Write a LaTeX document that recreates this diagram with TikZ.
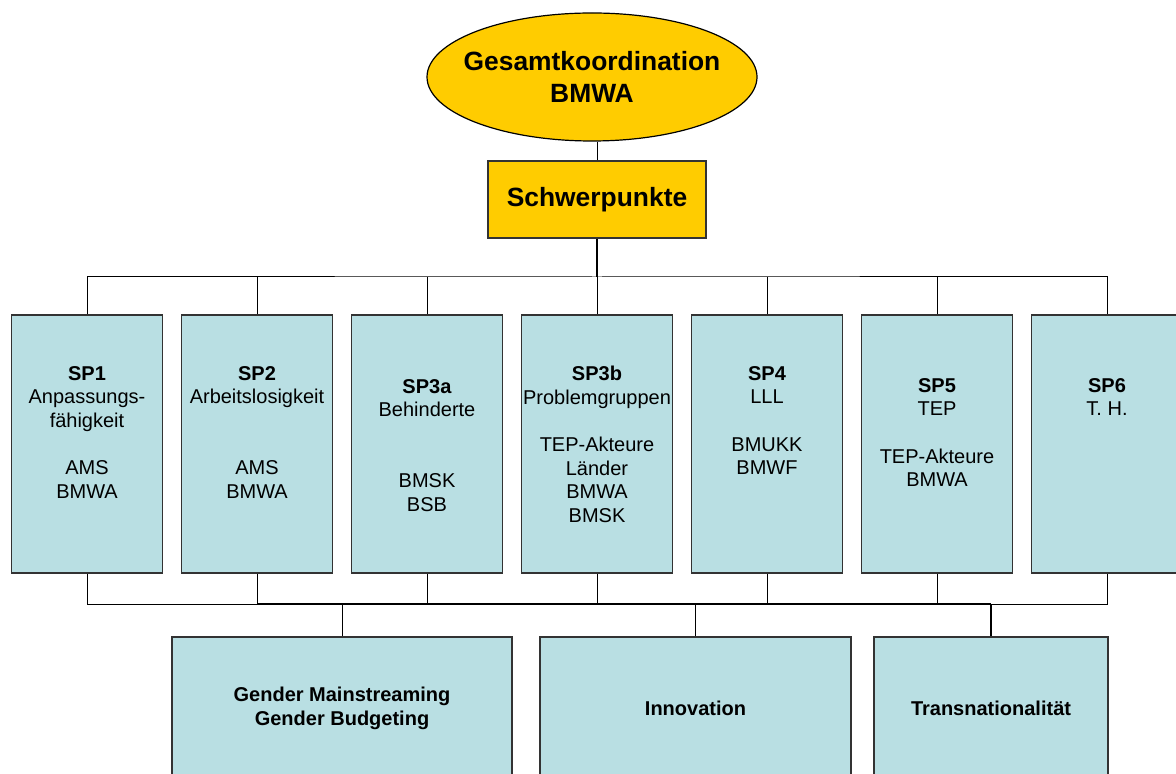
\documentclass[tikz,border=0pt]{standalone}
\usepackage{fontspec}
\setmainfont{Liberation Sans}
\usetikzlibrary{shapes.geometric}
\definecolor{gelb}{RGB}{255,204,0}
\definecolor{tuerkis}{RGB}{185,223,227}
\definecolor{rand}{RGB}{51,51,51}
\tikzset{
	spbox/.style={rectangle,draw=rand,fill=tuerkis,line width=.65pt,minimum width=75.5pt,minimum height=129pt,inner sep=0pt},
	sptext/.style={anchor=north,align=center,inner sep=0pt,font=\fontsize{10}{11.8}\selectfont},
	querbox/.style={rectangle,draw=rand,fill=tuerkis,line width=.65pt,minimum height=71pt,inner sep=0pt,align=center,font=\bfseries\fontsize{10}{12}\selectfont},
	linie/.style={line width=.5pt,draw=black},
	dicklinie/.style={line width=1pt,draw=black},
}

\begin{document}
\begin{tikzpicture}[x=.5pt,y=-.5pt]
	\useasboundingbox (0,0) rectangle (1176,774);
	\clip (0,0) rectangle (1176,774);
	% Kopf
	\node[ellipse,draw=black,fill=gelb,line width=.6pt,minimum width=165pt,minimum height=64pt,inner xsep=-6pt,inner ysep=0pt,align=center,font=\bfseries\fontsize{13.2}{15.7}\selectfont] (gesamt) at (592,77) {Gesamtkoordination\\BMWA};
	\node[rectangle,draw=rand,fill=gelb,line width=.65pt,minimum width=109pt,minimum height=38.5pt,inner sep=0pt,font=\bfseries\fontsize{13.2}{15.7}\selectfont] (schwer) at (597,199.5) {Schwerpunkte};
	% Schwerpunkte
	\node[spbox] (sp1) at (87,444) {};
	\node[spbox] (sp2) at (257,444) {};
	\node[spbox] (sp3a) at (427,444) {};
	\node[spbox] (sp3b) at (597,444) {};
	\node[spbox] (sp4) at (767,444) {};
	\node[spbox] (sp5) at (937,444) {};
	\node[spbox] (sp6) at (1107,444) {};
	\node[sptext] (sp1t) at (87,366) {\textbf{SP1}\\Anpassungs-\\fähigkeit\\[11.8pt]AMS\\BMWA};
	\node[sptext] (sp2t) at (257,366) {\textbf{SP2}\\Arbeitslosigkeit\\[23.6pt]AMS\\BMWA};
	\node[sptext] (sp3at) at (427,379) {\textbf{SP3a}\\Behinderte\\[23.6pt]BMSK\\BSB};
	\node[sptext] (sp3bt) at (597,366) {\textbf{SP3b}\\Problemgruppen\\[11.8pt]TEP-Akteure\\Länder\\BMWA\\BMSK};
	\node[sptext] (sp4t) at (767,366) {\textbf{SP4}\\LLL\\[11.8pt]BMUKK\\BMWF};
	\node[sptext] (sp5t) at (937,378) {\textbf{SP5}\\TEP\\[11.8pt]TEP-Akteure\\BMWA};
	\node[sptext] (sp6t) at (1107,378) {\textbf{SP6}\\T. H.};
	% Querschnitt
	\node[querbox,minimum width=170pt] (gender) at (342,708) {Gender Mainstreaming\\Gender Budgeting};
	\node[querbox,minimum width=155.5pt] (innov) at (695.5,708) {Innovation};
	\node[querbox,minimum width=117pt] (trans) at (991,708) {Transnationalität};
	% Verbindungen
	\coordinate (oben) at (597,277);
	\coordinate (unten) at (597,604);
	\draw[linie] (schwer.north) -- (schwer.north |- gesamt.south);
	\draw[dicklinie] (schwer.south) -- (oben);
	\draw[linie] (sp1.north) |- (oben) -| (sp6.north);
	\draw[linie] (sp2.north) -- (sp2.north |- oben);
	\draw[linie] (sp3a.north) -- (sp3a.north |- oben);
	\draw[linie] (sp3b.north) -- (sp3b.north |- oben);
	\draw[linie] (sp4.north) -- (sp4.north |- oben);
	\draw[linie] (sp5.north) -- (sp5.north |- oben);
	\draw[linie] (sp1.south) |- (unten) -| (sp6.south);
	\draw[linie] (sp2.south) -- (sp2.south |- unten);
	\draw[linie] (sp3a.south) -- (sp3a.south |- unten);
	\draw[linie] (sp3b.south) -- (sp3b.south |- unten);
	\draw[linie] (sp4.south) -- (sp4.south |- unten);
	\draw[linie] (sp5.south) -- (sp5.south |- unten);
	\draw[dicklinie] (sp2.south |- unten) -- (trans.north |- unten);
	\draw[linie] (gender.north) -- (gender.north |- unten);
	\draw[linie] (innov.north) -- (innov.north |- unten);
	\draw[dicklinie] (trans.north) -- (trans.north |- unten);
\end{tikzpicture}
\end{document}
